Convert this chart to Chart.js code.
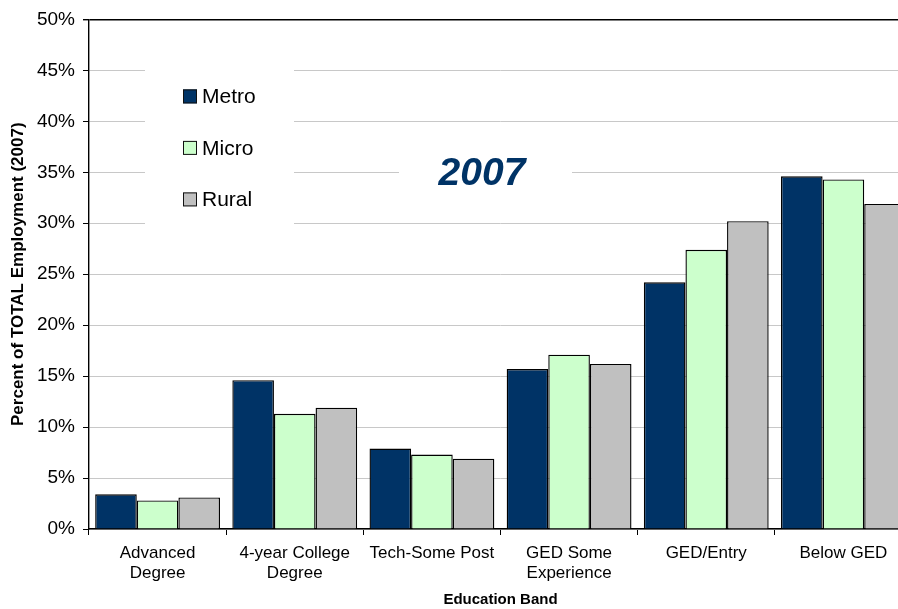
<!DOCTYPE html>
<html>
<head>
<meta charset="utf-8">
<script src="https://cdn.jsdelivr.net/npm/chart.js@4"></script>
<style>
  html, body { margin: 0; padding: 0; background: #fff; overflow: hidden; }
  #wrap { position: relative; width: 912px; height: 609px; }
</style>
</head>
<body>
<div id="wrap"><canvas id="chart" width="912" height="609"></canvas></div>
<script>
const categories = [["Advanced", "Degree"], ["4-year College", "Degree"], "Tech-Some Post",
  ["GED Some", "Experience"], "GED/Entry", "Below GED"];
const seriesNames = ["Metro", "Micro", "Rural"];
const metro = [3.4, 14.6, 7.9, 15.7, 24.2, 34.6];
const micro = [2.8, 11.3, 7.3, 17.1, 27.4, 34.3];
const rural = [3.1, 11.9, 6.9, 16.2, 30.2, 31.9];
const yTickLabels = ["0%", "5%", "10%", "15%", "20%", "25%", "30%", "35%", "40%", "45%", "50%"];
const chartTitle = "2007";

const colors = ["#003366", "#ccffcc", "#c0c0c0"];
const FONT = "'Liberation Sans', Arial, sans-serif";

// white boxes behind legend and title, then legend + title text
const overlay = {
  id: "overlay",
  beforeDatasetsDraw(chart) {
    const { ctx, chartArea: a } = chart;
    ctx.save();
    ctx.fillStyle = "#fff";
    ctx.fillRect(a.left + 56, a.top + 34, 149, 192);
    ctx.fillRect(a.left + 310, a.top + 126, 173, 58);
    ctx.restore();
  },
  afterDatasetsDraw(chart) {
    const { ctx, chartArea: a } = chart;
    ctx.save();
    ctx.font = "21px " + FONT;
    ctx.textBaseline = "middle";
    ctx.textAlign = "left";
    seriesNames.forEach((name, i) => {
      const cy = a.top + 77 + i * 51.5;
      ctx.fillStyle = colors[i];
      ctx.fillRect(a.left + 94, cy - 7, 14, 14);
      ctx.strokeStyle = "#111";
      ctx.lineWidth = 1;
      ctx.strokeRect(a.left + 94.5, cy - 6.5, 13, 13);
      ctx.fillStyle = "#000";
      ctx.fillText(name, a.left + 113, cy + 1);
    });
    ctx.font = "italic bold 39px " + FONT;
    ctx.fillStyle = "#003366";
    ctx.textAlign = "center";
    ctx.fillText(chartTitle, a.left + 393, a.top + 155);
    ctx.restore();
  }
};

new Chart(document.getElementById("chart"), {
  type: "bar",
  data: {
    labels: categories,
    datasets: [metro, micro, rural].map((d, i) => ({
      label: seriesNames[i],
      data: d,
      backgroundColor: colors[i],
      borderColor: "#000",
      borderWidth: 1.4,
      categoryPercentage: 0.91,
      barPercentage: 1.0
    }))
  },
  options: {
    responsive: false,
    animation: false,
    devicePixelRatio: 1,
    layout: { padding: { top: 17, right: 0, bottom: 0, left: 0 } },
    plugins: {
      legend: { display: false },
      tooltip: { enabled: false }
    },
    scales: {
      x: {
        grid: {
          offset: true,
          drawOnChartArea: false,
          drawTicks: true,
          tickLength: 6,
          tickColor: "#000"
        },
        border: { color: "#000", width: 1.4 },
        ticks: {
          color: "#000",
          font: { family: FONT, size: 17 },
          padding: 8,
          maxRotation: 0,
          autoSkip: false
        },
        title: {
          display: true,
          text: "Education Band",
          color: "#000",
          font: { family: FONT, size: 15, weight: "bold" },
          padding: { top: 4, bottom: 0 }
        },
        afterFit(s) { s.height = 80; }
      },
      y: {
        min: 0,
        max: 50,
        ticks: {
          stepSize: 5,
          color: "#000",
          font: { family: FONT, size: 19 },
          padding: 8,
          callback: (v) => yTickLabels[Math.round(v / 5)]
        },
        grid: {
          color: (c) => (c.tick && c.tick.value === 50 ? "#000" : "#c8c8c8"),
          lineWidth: (c) => (c.tick && c.tick.value === 50 ? 1.4 : 1),
          tickColor: "#000",
          tickLength: 6
        },
        border: { color: "#000", width: 1.4 },
        title: {
          display: true,
          text: "Percent of TOTAL Employment (2007)",
          color: "#000",
          font: { family: FONT, size: 17, weight: "bold" },
          padding: { top: 8, bottom: 0 }
        },
        afterFit(s) { s.width = 89; }
      }
    }
  },
  plugins: [overlay]
});
</script>
</body>
</html>
